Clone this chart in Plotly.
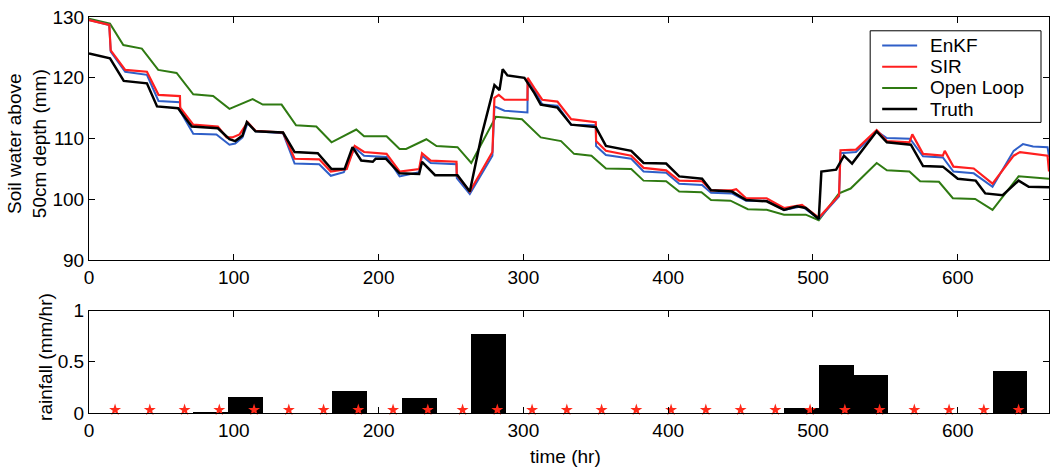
import plotly.graph_objects as go

# ---- soil water above 50 cm depth (mm): vertices of each time series ----
truth_t = [0, 14.5, 24, 40, 47, 61.5, 71, 89, 97, 101, 106, 109, 115, 134, 142, 158, 167.5, 176.5,
           182, 188, 196, 198, 205, 214.5, 228, 230, 239, 254.5, 263, 271, 280, 283.5, 285.7, 289,
           300.7, 307.6, 312, 323.5, 333, 350, 357, 374.5, 383, 398.6, 407.6, 423.4, 429.6, 444,
           453.8, 468, 480, 489, 495, 504, 505.8, 516, 521.4, 527, 544, 551, 567.6, 576, 589.7,
           600, 612.4, 619, 631, 642, 649, 663]
truth_v = [124.0, 123.2, 119.5, 119.1, 115.3, 115.0, 112.0, 111.7, 109.9, 109.6, 110.5, 112.7, 111.2,
           111.0, 107.8, 107.6, 105.0, 105.0, 108.6, 106.4, 106.2, 106.7, 106.7, 104.3, 104.2, 106.2,
           104.0, 104.0, 101.3, 110.4, 118.8, 118.0, 121.4, 120.4, 120.0, 117.5, 115.6, 115.1, 112.3,
           111.9, 108.8, 108.0, 106.0, 105.9, 103.8, 103.4, 101.5, 101.3, 99.9, 99.7, 98.3, 98.9,
           98.6, 96.8, 104.6, 104.9, 107.2, 105.9, 111.2, 109.4, 109.0, 105.5, 105.4, 103.4, 103.1,
           101.0, 100.7, 103.1, 102.1, 102.0]

sir_t = [0, 14, 15, 25, 40, 48, 62.8, 63, 72, 89, 95, 99, 104, 109.6, 115, 134, 142, 159, 167, 178,
         183.5, 190, 205.5, 214.5, 228, 230, 236, 253.8, 254, 263, 278.6, 280, 283, 287, 302.8, 303,
         307.6, 313, 323.5, 333, 350, 350.2, 357, 374.5, 383, 398.6, 407.6, 423.4, 429.6, 444, 447,
         453.8, 468, 480, 492.4, 504, 512, 518, 519, 529.7, 544, 551, 566.6, 568.6, 576, 589.7, 591,
         597, 611, 624, 638.6, 643, 662, 663]
sir_v = [129.5, 128.7, 124.5, 121.3, 121.0, 117.2, 117.0, 115.1, 112.3, 112.0, 110.2, 110.2, 110.7,
         112.7, 111.3, 111.0, 106.7, 106.6, 104.6, 105.0, 108.8, 107.8, 107.5, 104.6, 105.0, 107.6,
         106.4, 106.2, 104.0, 101.3, 107.8, 116.7, 117.2, 116.4, 116.4, 120.0, 118.3, 116.4, 116.1,
         113.2, 112.7, 109.6, 108.0, 107.2, 105.2, 104.8, 103.1, 103.0, 101.5, 101.5, 101.7, 100.2,
         100.2, 98.6, 99.1, 97.0, 99.1, 100.7, 108.1, 108.2, 111.4, 109.6, 109.4, 110.7, 107.5,
         107.2, 108.0, 105.4, 105.1, 102.6, 107.2, 107.8, 107.2, 104.6]

enkf_t = [0, 14, 15, 25, 40, 48, 62.8, 63, 72, 88, 97, 101, 106, 109.6, 115, 134, 142, 159, 167,
          176, 183.5, 190, 205.5, 214.5, 228, 230, 236, 253.8, 254, 263, 278.6, 280, 283, 287, 302.8,
          303, 307.6, 313, 323.5, 333, 350, 350.2, 357, 374.5, 383, 398.6, 407.6, 423.4, 429.6, 444,
          453.8, 468, 480, 492.4, 504, 512, 518, 519, 529.7, 544, 551, 567, 576, 589.7, 597, 611,
          624, 638.6, 645, 652, 662, 663]
enkf_v = [129.5, 128.7, 124.3, 121.0, 120.5, 116.2, 116.0, 114.5, 110.8, 110.7, 109.0, 109.2, 110.2,
          112.6, 111.2, 110.9, 105.9, 105.8, 103.9, 104.5, 108.5, 107.2, 107.0, 103.8, 104.5, 107.2,
          106.0, 105.8, 103.5, 100.9, 107.2, 115.3, 115.0, 114.6, 114.3, 119.8, 118.0, 115.6, 115.4,
          112.3, 112.2, 108.8, 107.3, 106.7, 104.6, 104.4, 102.6, 102.4, 101.1, 101.0, 99.8, 99.8,
          98.3, 98.9, 96.8, 99.0, 100.5, 107.6, 107.8, 111.2, 110.1, 110.0, 107.1, 106.9, 104.6,
          104.3, 102.1, 108.0, 109.1, 108.7, 108.6, 107.0]

open_t = [0, 14.5, 23.7, 36.5, 47.8, 60.5, 72, 85.7, 97, 113, 120, 133, 143, 157, 167.5, 184.6, 190,
          205.5, 214.5, 219, 233, 240, 254.5, 264, 281, 299, 312, 326, 335, 347, 357, 374.5, 383,
          398.6, 407.6, 423, 429.6, 443, 455, 468, 480, 495, 504, 518, 526, 544, 551, 566.6, 574,
          587, 596.6, 612, 624, 642, 663]
open_v = [129.7, 128.9, 125.4, 124.8, 121.3, 120.8, 117.3, 117.0, 114.9, 116.5, 115.6, 115.6, 112.2,
          112.0, 109.4, 111.5, 110.4, 110.4, 108.3, 108.3, 109.9, 108.8, 108.6, 106.0, 113.6, 113.2,
          110.2, 109.6, 107.5, 107.2, 105.1, 105.0, 103.1, 103.0, 101.3, 101.2, 99.9, 99.8, 98.4,
          98.3, 97.5, 97.5, 96.6, 101.0, 101.8, 106.0, 104.8, 104.6, 103.0, 102.9, 100.2, 100.1,
          98.3, 103.8, 103.4]

series_names = ["EnKF", "SIR", "Open Loop", "Truth"]
series_colors = ["#2f5fc8", "#ff1f1f", "#2f7a12", "#000000"]
series_widths = [2, 2.2, 2, 2.5]

# ---- rainfall (mm/hr), daily blocks, and observation times ----
rain_t = [84, 108, 180, 228, 276, 492, 516, 540, 636]
rain_v = [0.01, 0.162, 0.218, 0.147, 0.775, 0.05, 0.47, 0.378, 0.415]
rain_block = 24
obs_t = [18 + 24 * k for k in range(28)]
obs_v = [0.03] * len(obs_t)

FONT = "Liberation Sans, Arial, Helvetica, sans-serif"
W, H = 1057, 469
ML, MR, MT, MB = 89, 7, 11, 56
PW, PH = W - ML - MR, H - MT - MB


def px(xp):
    return (xp - ML) / PW


def py(yp):
    return (H - MB - yp) / PH


fig = go.Figure()

data = {
    "EnKF": (enkf_t, enkf_v),
    "SIR": (sir_t, sir_v),
    "Open Loop": (open_t, open_v),
    "Truth": (truth_t, truth_v),
}
draw_order = ["Open Loop", "EnKF", "SIR", "Truth"]
for name in draw_order:
    i = series_names.index(name)
    t, v = data[name]
    fig.add_trace(go.Scatter(x=t, y=v, mode="lines", name=name,
                             line=dict(color=series_colors[i], width=series_widths[i]),
                             xaxis="x", yaxis="y", showlegend=False))

fig.add_trace(go.Bar(x=rain_t, y=rain_v, width=rain_block, marker=dict(color="black", line=dict(width=0)),
                     xaxis="x2", yaxis="y2", showlegend=False))
fig.add_trace(go.Scatter(x=obs_t, y=obs_v, mode="markers",
                         marker=dict(symbol="star", size=9, color="#ff2a1a", line=dict(width=0)),
                         cliponaxis=False, xaxis="x2", yaxis="y2", showlegend=False))

axis_common = dict(showline=True, linecolor="black", linewidth=1, mirror="ticks", ticks="inside",
                   ticklen=6, tickcolor="black", showgrid=False, zeroline=False,
                   tickfont=dict(family=FONT, size=19, color="black"))

top_dom = [py(258), 1.0]
bot_dom = [0.0, py(309)]

fig.update_layout(
    width=W, height=H, autosize=False,
    margin=dict(l=ML, r=MR, t=MT, b=MB, pad=0),
    paper_bgcolor="white", plot_bgcolor="white",
    font=dict(family=FONT, size=19, color="black"),
    bargap=0,
    xaxis=dict(domain=[0, 1], range=[0, 663], tickvals=[0, 100, 200, 300, 400, 500, 600],
               anchor="y", **axis_common),
    yaxis=dict(domain=top_dom, range=[90, 130], tickvals=[90, 100, 110, 120, 130],
               anchor="x", **axis_common),
    xaxis2=dict(domain=[0, 1], range=[0, 663], tickvals=[0, 100, 200, 300, 400, 500, 600],
                anchor="y2", **axis_common),
    yaxis2=dict(domain=bot_dom, range=[0, 1], tickvals=[0, 0.5, 1], ticktext=["0", "0.5", "1"],
                anchor="x2", **axis_common),
)

# axis titles
fig.add_annotation(text="Soil water above<br>50cm depth (mm)", xref="paper", yref="paper",
                   x=px(27), y=py(140), textangle=-90, showarrow=False,
                   xanchor="center", yanchor="middle", font=dict(family=FONT, size=19))
fig.add_annotation(text="rainfall (mm/hr)", xref="paper", yref="paper",
                   x=px(46), y=py(356), textangle=-90, showarrow=False,
                   xanchor="center", yanchor="middle", font=dict(family=FONT, size=19))
fig.add_annotation(text="time (hr)", xref="paper", yref="paper",
                   x=px(566), y=py(457), showarrow=False,
                   xanchor="center", yanchor="middle", font=dict(family=FONT, size=19))

# legend box with line samples
fig.add_shape(type="rect", xref="paper", yref="paper", x0=px(871), x1=px(1042), y0=py(118), y1=py(25),
              line=dict(color="black", width=1), fillcolor="white", layer="above")
entry_y = [40, 61.5, 83, 104.5]
for name, color, width, ey in zip(series_names, series_colors, series_widths, entry_y):
    fig.add_shape(type="line", xref="paper", yref="paper", x0=px(883), x1=px(918), y0=py(ey), y1=py(ey),
                  line=dict(color=color, width=width), layer="above")
    fig.add_annotation(text=name, xref="paper", yref="paper", x=px(929), y=py(ey), showarrow=False,
                       xanchor="left", yanchor="middle", font=dict(family=FONT, size=19))

fig.write_html("out.html")
